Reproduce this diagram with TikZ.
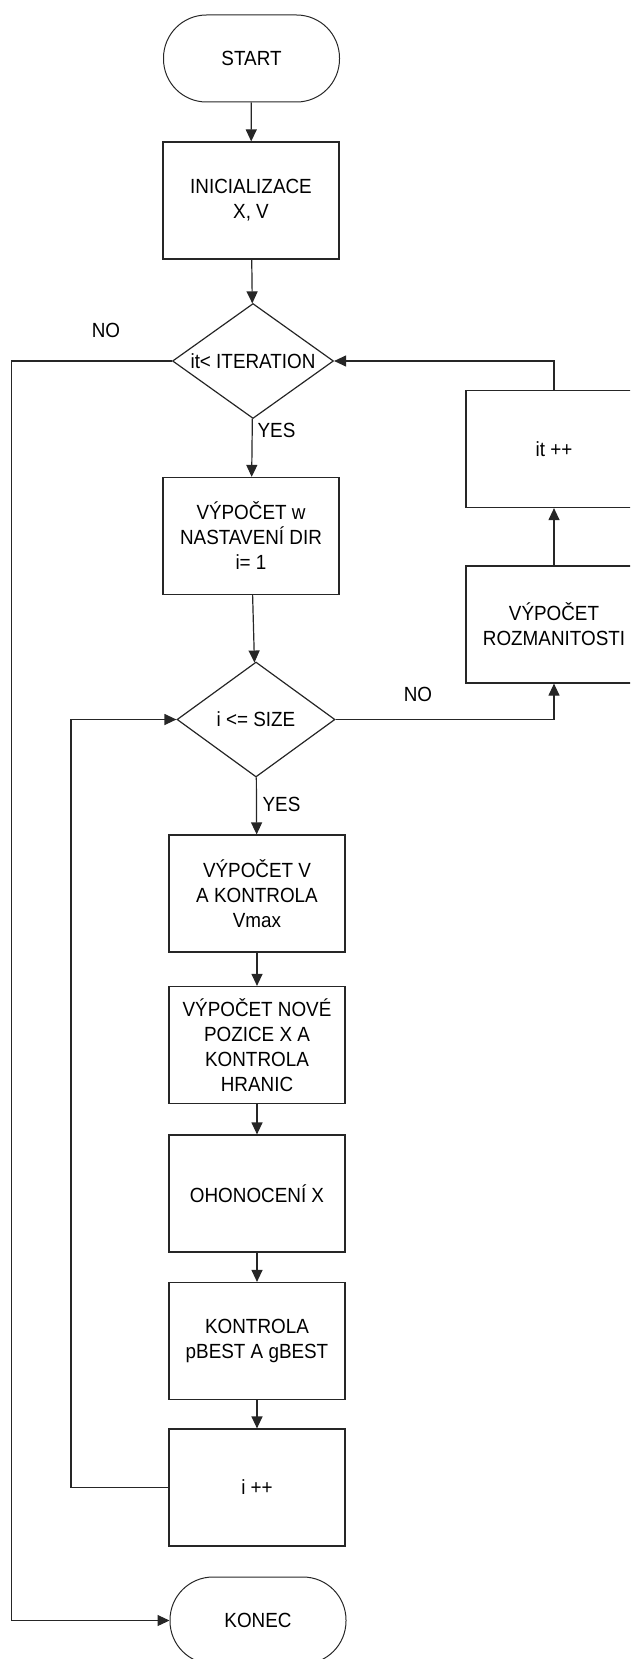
\documentclass[tikz,border=0pt]{standalone}
\usepackage{fontspec}
\setmainfont{Liberation Sans}[FakeStretch=0.92]
\usetikzlibrary{arrows.meta,shapes.geometric}
\begin{document}
\begin{tikzpicture}[x=1pt,y=-1pt,
  font=\fontsize{20.5}{25}\selectfont,
  line width=1.2pt, draw=black!85,
  proc/.style={draw, rectangle, minimum width=176pt, minimum height=117pt,
               align=center, inner sep=0pt},
  term/.style={draw, rectangle, rounded corners=43pt, minimum width=176pt,
               minimum height=87pt, inner sep=0pt, line width=1pt},
  dec/.style={draw, diamond, inner sep=0pt},
  flow/.style={-{Triangle[length=12pt,width=11pt]}},
  lbl/.style={inner sep=0pt}]
\useasboundingbox (0,0) rectangle (630,1659);
\clip (0,0) rectangle (630,1659);

% main column
\node[term] (start) at (251.5,58.5) {START};
\node[proc] (init) at (251,200.5) {INICIALIZACE\\X, V};
\node[dec, minimum width=161pt, minimum height=115pt] (d1) at (253,361) {};
\node[lbl] (d1t) at (d1.center) {it< ITERATION};
\node[proc] (vw) at (251,536) {VÝPOČET w\\NASTAVENÍ DIR\\i= 1};
\node[dec, minimum width=158pt, minimum height=115pt] (d2) at (256,719.5) {};
\node[lbl] (d2t) at (d2.center) {i <= SIZE};
\node[proc] (vv) at (257,893.5) {VÝPOČET V\\A KONTROLA\\Vmax};
\node[proc] (np) at (257,1045) {VÝPOČET NOVÉ\\POZICE X A\\KONTROLA\\HRANIC};
\node[proc] (oh) at (257,1193.5) {OHONOCENÍ X};
\node[proc] (kb) at (257,1341) {KONTROLA\\pBEST A gBEST};
\node[proc] (ip) at (257,1487.5) {i ++};
\node[term] (konec) at (258,1620.5) {KONEC};

% right column
\node[proc] (itp) at (554,449) {it ++};
\node[proc] (roz) at (554,624.5) {VÝPOČET\\ROZMANITOSTI};

% branch labels
\node[lbl] (no1) at (106,330) {NO};
\node[lbl] (no2) at (418,694) {NO};
\node[lbl, anchor=west] (yes1) at (257,430) {YES};
\node[lbl, anchor=west] (yes2) at (262,804) {YES};

% connectors
\draw[flow] (start) -- (init);
\draw[flow] (init) -- (d1);
\draw[flow] (d1) -- (vw);
\draw[flow] (vw) -- (d2);
\draw[flow] (d2) -- (vv);
\draw[flow] (vv) -- (np);
\draw[flow] (np) -- (oh);
\draw[flow] (oh) -- (kb);
\draw[flow] (kb) -- (ip);
\draw[flow] (ip.west) -- ++(-97.5,0) |- (d2.west);
\draw[flow] (d2.east) -| (roz.south);
\draw[flow] (roz) -- (itp);
\draw[flow] (itp.north) |- (d1.east);
\draw[flow] (d1.west) -- ++(-160.5,0) |- (konec.west);
\end{tikzpicture}
\end{document}
